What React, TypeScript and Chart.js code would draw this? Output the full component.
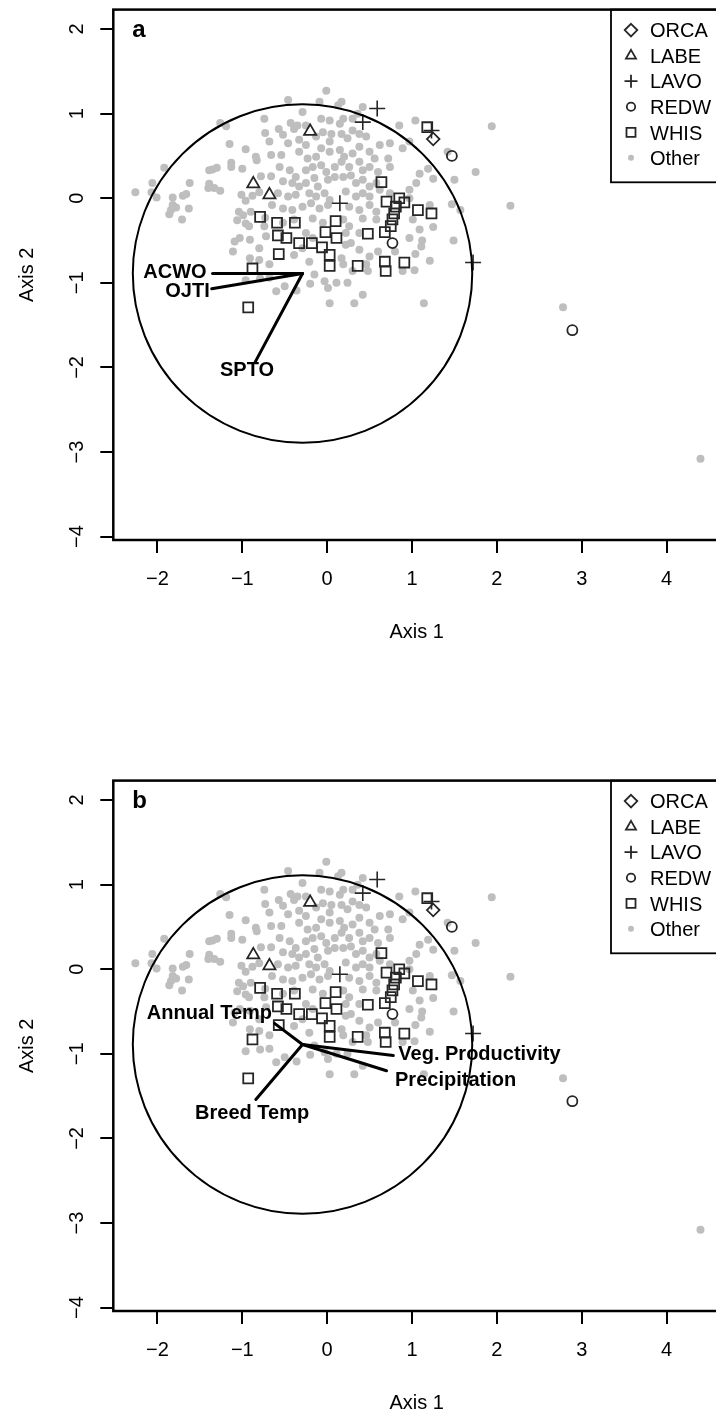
import React, { useEffect, useRef } from 'react';
import { Chart, registerables } from 'chart.js';

Chart.register(...registerables);

const FONT = '"Liberation Sans", Arial, Helvetica, sans-serif';

type Pt = [number, number];

// ---------- axes ----------
const xTicks = [-2, -1, 0, 1, 2, 3, 4];
const yTicks = [-4, -3, -2, -1, 0, 1, 2];
const xRange = [-2.52, 4.63];
const yRange = [-4.04, 2.23];
const xTitle = 'Axis 1';
const yTitle = 'Axis 2';

// ---------- species points ----------
const speciesNames = ['ORCA', 'LABE', 'LAVO', 'REDW', 'WHIS', 'Other'];
const orcaPoints: Pt[] = [[1.25, 0.70]];
const labePoints: Pt[] = [[-0.87, 0.17], [-0.68, 0.04], [-0.20, 0.79]];
const lavoPoints: Pt[] = [[0.59, 1.06], [0.42, 0.90], [0.15, -0.06], [1.72, -0.76], [1.23, 0.80]];
const redwPoints: Pt[] = [[1.47, 0.50], [0.77, -0.53], [2.89, -1.56]];
const whisPoints: Pt[] = [
  [-0.79, -0.22], [0.64, 0.19], [0.85, 0.00], [0.91, -0.05], [0.70, -0.04], [0.81, -0.10],
  [0.79, -0.18], [0.77, -0.25], [0.75, -0.33], [1.07, -0.14], [-0.59, -0.29], [-0.38, -0.29],
  [0.10, -0.27], [-0.02, -0.40], [0.48, -0.42], [0.68, -0.40], [1.18, 0.84], [1.23, -0.18],
  [-0.58, -0.44], [-0.48, -0.47], [-0.33, -0.53], [-0.18, -0.53], [-0.06, -0.58], [0.11, -0.47],
  [0.03, -0.67], [0.03, -0.80], [-0.57, -0.66], [0.36, -0.80], [0.68, -0.75], [0.69, -0.86],
  [0.91, -0.76], [-0.88, -0.83], [-0.93, -1.29],
];
const otherPoints: Pt[] = [
  [-1.26, 0.89], [-1.19, 0.85], [-0.74, 0.94], [-0.73, 0.77], [-1.15, 0.64], [-0.96, 0.58],
  [-0.84, 0.49], [-0.83, 0.45], [-0.68, 0.67], [-0.66, 0.51], [-1.13, 0.42], [-1.13, 0.37],
  [-1.00, 0.35], [-1.30, 0.36], [-1.39, 0.33], [-1.35, 0.34], [-1.92, 0.36], [-2.06, 0.18],
  [-1.62, 0.18], [-2.26, 0.07], [-2.07, 0.07], [-2.01, 0.01], [-1.82, 0.01], [-1.70, 0.03],
  [-1.66, 0.05], [-1.82, -0.08], [-1.84, -0.14], [-1.78, -0.11], [-1.86, -0.19], [-1.63, -0.12],
  [-1.71, -0.25], [-1.39, 0.17], [-1.33, 0.12], [-1.26, 0.09], [-1.40, 0.12], [-1.01, 0.04],
  [-0.96, -0.03], [-0.88, 0.03], [-0.80, 0.07], [-0.78, 0.26], [-0.66, 0.26], [-1.04, -0.16],
  [-1.06, -0.26], [-0.99, -0.20], [-0.96, -0.30], [-0.90, -0.16], [-0.92, -0.33], [-0.74, -0.33],
  [-0.73, -0.23], [-0.65, -0.08],
  [-0.01, 1.27], [-0.46, 1.16], [-0.29, 1.02], [-0.09, 1.14], [0.13, 1.10], [0.17, 1.14],
  [0.42, 1.08], [-0.43, 0.89], [-0.35, 0.86], [-0.39, 0.82], [-0.25, 0.86], [-0.07, 0.94],
  [0.03, 0.92], [0.19, 0.94], [0.15, 0.88], [0.30, 0.94], [0.36, 1.00], [1.04, 0.92],
  [-0.57, 0.82], [-0.52, 0.75], [-0.46, 0.65], [-0.33, 0.69], [-0.25, 0.63], [-0.13, 0.73],
  [-0.05, 0.78], [0.05, 0.76], [0.03, 0.67], [0.17, 0.76], [0.30, 0.80], [0.24, 0.71],
  [0.38, 0.76], [0.46, 0.73], [0.62, 0.63], [0.74, 0.65], [0.89, 0.59], [0.85, 0.86],
  [0.97, 0.67], [-0.54, 0.51], [-0.33, 0.55], [-0.23, 0.47], [-0.13, 0.49], [-0.07, 0.59],
  [0.03, 0.55], [0.15, 0.57], [0.20, 0.49], [0.30, 0.53], [0.38, 0.61], [0.50, 0.55],
  [0.56, 0.47], [0.72, 0.47], [0.74, 0.37], [1.09, 0.29], [1.05, 0.18], [0.97, 0.10],
  [-0.56, 0.37], [-0.44, 0.33], [-0.37, 0.25], [-0.25, 0.33], [-0.17, 0.37], [-0.07, 0.39],
  [-0.01, 0.31], [0.09, 0.37], [0.17, 0.43], [0.26, 0.37], [0.38, 0.43], [0.42, 0.33],
  [0.50, 0.37], [0.60, 0.31], [-0.52, 0.20], [-0.41, 0.18], [-0.33, 0.14], [-0.25, 0.18],
  [-0.15, 0.24], [-0.11, 0.14], [0.01, 0.22], [0.09, 0.25], [0.19, 0.25], [0.28, 0.27],
  [0.34, 0.18], [0.42, 0.22], [0.50, 0.14], [0.58, 0.18], [-0.58, 0.06], [-0.46, 0.02],
  [-0.37, 0.04], [-0.21, 0.06], [-0.13, 0.02], [-0.03, 0.06], [0.03, -0.02], [0.22, 0.08],
  [0.34, 0.02], [0.42, 0.06], [0.50, 0.02], [0.62, 0.10], [0.74, 0.06], [0.97, 0.00],
  [-0.52, -0.12], [-0.41, -0.14], [-0.29, -0.10], [-0.19, -0.06], [-0.09, -0.12], [0.01, -0.08],
  [0.26, -0.10], [0.38, -0.14], [0.50, -0.08], [0.58, -0.16], [-0.52, -0.29], [-0.39, -0.25],
  [-0.17, -0.24], [-0.05, -0.29], [0.19, -0.25], [0.26, -0.33], [0.42, -0.24], [0.58, -0.25],
  [0.22, -0.41], [-0.25, -0.41], [0.38, -0.41], [1.01, -0.25], [1.09, -0.37],
  [1.94, 0.85], [1.75, 0.31], [2.16, -0.09], [1.50, 0.22], [1.42, 0.55], [1.25, 0.23],
  [1.19, 0.35], [1.47, -0.07], [1.57, -0.14], [1.25, -0.34], [1.21, -0.08],
  [2.78, -1.29], [4.40, -3.08], [1.49, -0.50], [1.12, -0.50], [1.11, -0.57], [1.04, -0.66],
  [1.21, -0.74], [1.03, -0.85], [1.14, -1.24],
  [-1.09, -0.51], [-1.03, -0.47], [-0.91, -0.49], [-0.80, -0.59], [-0.72, -0.45], [-1.11, -0.63],
  [-0.91, -0.71], [-0.80, -0.73], [-0.68, -0.78], [-0.96, -0.97], [-0.68, -0.94],
  [-0.60, -1.10], [-0.50, -1.04], [-0.39, -0.67], [-0.29, -0.59], [-0.21, -0.75], [-0.15, -0.90],
  [-0.17, -0.47], [-0.03, -0.98], [0.01, -1.06], [0.11, -1.00], [0.17, -0.71], [0.19, -0.78],
  [0.22, -0.55], [0.24, -1.00], [0.30, -0.86], [0.38, -0.61], [0.42, -1.14], [0.32, -1.24],
  [0.03, -1.24], [0.48, -0.86], [0.50, -0.69], [0.60, -0.63], [0.46, -0.78], [0.28, -0.53],
  [0.89, -0.86], [0.97, -0.47], [0.80, -0.63],
  [-0.79, -0.95], [-0.36, -1.09], [-0.20, -1.01],
];

// ---------- biplot vectors ----------
const arrowOrigin: Pt = [-0.29, -0.89];
const circleRadius = 2.0;

const arrowNamesA = ['ACWO', 'OJTI', 'SPTO'];
const arrowEndXA = [-1.35, -1.36, -0.85];
const arrowEndYA = [-0.89, -1.07, -1.94];

const arrowNamesB = ['Annual Temp', 'Veg. Productivity', 'Precipitation', 'Breed Temp'];
const arrowEndXB = [-0.62, 0.78, 0.70, -0.84];
const arrowEndYB = [-0.64, -1.02, -1.20, -1.54];

// label placement (pixel offsets from vector tip) - styling only
type LabelStyle = { align: CanvasTextAlign; dx: number; dy: number };
const labelStyleA: LabelStyle[] = [
  { align: 'right', dx: -6, dy: -1 },
  { align: 'right', dx: -2, dy: 3 },
  { align: 'center', dx: -8, dy: 8 },
];
const labelStyleB: LabelStyle[] = [
  { align: 'right', dx: -2.5, dy: -10 },
  { align: 'left', dx: 5, dy: -1.5 },
  { align: 'left', dx: 8.5, dy: 10 },
  { align: 'center', dx: -3.7, dy: 14 },
];

const SYM = '#262626';
const GREY = '#bebebe';

const fmt = (v: number) => (v < 0 ? '\u2212' + Math.abs(v) : String(v));
const toXY = (p: Pt[]) => p.map(([x, y]) => ({ x, y }));

function drawSymbol(ctx: CanvasRenderingContext2D, kind: string, x: number, y: number) {
  ctx.save();
  ctx.lineWidth = 1.8;
  ctx.strokeStyle = SYM;
  ctx.fillStyle = GREY;
  ctx.beginPath();
  if (kind === 'diamond') {
    const r = 6.3;
    ctx.moveTo(x, y - r); ctx.lineTo(x + r, y); ctx.lineTo(x, y + r); ctx.lineTo(x - r, y); ctx.closePath();
    ctx.stroke();
  } else if (kind === 'triangle') {
    const r = 5.8;
    ctx.moveTo(x, y - r); ctx.lineTo(x + r * 0.866, y + r / 2); ctx.lineTo(x - r * 0.866, y + r / 2); ctx.closePath();
    ctx.stroke();
  } else if (kind === 'plus') {
    const r = 6.5;
    ctx.moveTo(x - r, y); ctx.lineTo(x + r, y); ctx.moveTo(x, y - r); ctx.lineTo(x, y + r);
    ctx.stroke();
  } else if (kind === 'circle') {
    ctx.arc(x, y, 4.2, 0, Math.PI * 2);
    ctx.stroke();
  } else if (kind === 'square') {
    ctx.rect(x - 4.5, y - 4.5, 9, 9);
    ctx.stroke();
  } else {
    ctx.arc(x, y, 3, 0, Math.PI * 2);
    ctx.fill();
  }
  ctx.restore();
}

const legendKinds = ['diamond', 'triangle', 'plus', 'circle', 'square', 'dot'];

function buildChart(canvas: HTMLCanvasElement, panel: 'a' | 'b') {
  const names = panel === 'a' ? arrowNamesA : arrowNamesB;
  const ex = panel === 'a' ? arrowEndXA : arrowEndXB;
  const ey = panel === 'a' ? arrowEndYA : arrowEndYB;
  const styles = panel === 'a' ? labelStyleA : labelStyleB;

  const pointSet = (label: string, pts: Pt[], style: string, radius: number, order: number, width = 1.8) => ({
    label,
    data: toXY(pts),
    showLine: false,
    pointStyle: style,
    pointRadius: radius,
    pointHoverRadius: radius,
    pointBackgroundColor: 'rgba(0,0,0,0)',
    pointBorderColor: SYM,
    pointBorderWidth: width,
    order,
  });

  const arrowSets = names.map((n, i) => ({
    label: n,
    data: [{ x: arrowOrigin[0], y: arrowOrigin[1] }, { x: ex[i], y: ey[i] }],
    showLine: true,
    borderColor: '#000',
    borderWidth: 3,
    borderCapStyle: 'round',
    pointRadius: 0,
    pointHoverRadius: 0,
    order: 1,
  }));

  const overlay = {
    id: 'overlay' + panel,
    afterDatasetsDraw(chart: any) {
      const { ctx, chartArea: ca } = chart;
      const xs = chart.scales.x;
      const ys = chart.scales.y;
      ctx.save();
      ctx.beginPath();
      ctx.rect(ca.left, ca.top, ca.right - ca.left, ca.bottom - ca.top);
      ctx.clip();
      const cx = xs.getPixelForValue(arrowOrigin[0]);
      const cy = ys.getPixelForValue(arrowOrigin[1]);
      const rx = xs.getPixelForValue(arrowOrigin[0] + circleRadius) - cx;
      const ry = cy - ys.getPixelForValue(arrowOrigin[1] + circleRadius);
      ctx.beginPath();
      ctx.ellipse(cx, cy, rx, ry, 0, 0, Math.PI * 2);
      ctx.lineWidth = 2;
      ctx.strokeStyle = '#000';
      ctx.stroke();
      ctx.restore();

      // vector labels
      ctx.save();
      ctx.fillStyle = '#000';
      ctx.font = 'bold 20px ' + FONT;
      ctx.textBaseline = 'middle';
      names.forEach((n, i) => {
        const px = xs.getPixelForValue(ex[i]);
        const py = ys.getPixelForValue(ey[i]);
        ctx.textAlign = styles[i].align;
        ctx.fillText(n, px + styles[i].dx, py + styles[i].dy);
      });
      ctx.restore();
    },
    afterDraw(chart: any) {
      const { ctx, chartArea: ca } = chart;
      const ys = chart.scales.y;
      // legend (top-right inside the box)
      ctx.save();
      const lLeft = ca.right - 109;
      const lTop = ca.top;
      const lBottom = ca.top + 172.7;
      ctx.fillStyle = '#fff';
      ctx.fillRect(lLeft, lTop, ca.right - lLeft, lBottom - lTop);
      ctx.lineWidth = 1.8;
      ctx.strokeStyle = '#000';
      ctx.strokeRect(lLeft, lTop, ca.right - lLeft, lBottom - lTop);
      ctx.font = '20px ' + FONT;
      ctx.fillStyle = '#000';
      ctx.textAlign = 'left';
      ctx.textBaseline = 'alphabetic';
      speciesNames.forEach((n, i) => {
        const cyRow = lTop + 20.5 + i * 25.55;
        drawSymbol(ctx, legendKinds[i], lLeft + 20, cyRow);
        ctx.fillStyle = '#000';
        ctx.fillText(n, lLeft + 39, cyRow + 7.2);
      });
      ctx.restore();

      // frame
      ctx.save();
      ctx.lineWidth = 2.5;
      ctx.strokeStyle = '#000';
      ctx.strokeRect(ca.left, ca.top, ca.right - ca.left, ca.bottom - ca.top);
      ctx.restore();

      // rotated y tick labels
      ctx.save();
      ctx.font = '20px ' + FONT;
      ctx.fillStyle = '#000';
      ctx.textAlign = 'center';
      ctx.textBaseline = 'alphabetic';
      ys.ticks.forEach((t: any) => {
        const py = ys.getPixelForValue(t.value);
        ctx.save();
        ctx.translate(ca.left - 30.3, py);
        ctx.rotate(-Math.PI / 2);
        ctx.fillText(fmt(t.value), 0, 0);
        ctx.restore();
      });
      // axis titles
      ctx.save();
      ctx.translate(33, (ca.top + ca.bottom) / 2);
      ctx.rotate(-Math.PI / 2);
      ctx.fillText(yTitle, 0, 0);
      ctx.restore();
      ctx.fillText(xTitle, (ca.left + ca.right) / 2, ca.bottom + 98);
      // panel letter
      ctx.font = 'bold 24px ' + FONT;
      ctx.textAlign = 'left';
      ctx.fillText(panel, ca.left + 19, ca.top + 27.5);
      ctx.restore();
    },
  };

  const gridOpts = {
    drawOnChartArea: false,
    drawTicks: true,
    tickLength: 13,
    color: '#000',
    tickColor: '#000',
    lineWidth: 2,
    tickWidth: 2,
  };

  return new Chart(canvas, {
    type: 'scatter',
    data: {
      datasets: [
        ...arrowSets,
        pointSet('ORCA', orcaPoints, 'rectRot', 6.3, 5),
        pointSet('LABE', labePoints, 'triangle', 7, 5),
        pointSet('LAVO', lavoPoints, 'cross', 8, 5, 1.6),
        pointSet('REDW', redwPoints, 'circle', 5, 5),
        pointSet('WHIS', whisPoints, 'rect', 7, 5),
        {
          label: 'Other',
          data: toXY(otherPoints),
          showLine: false,
          pointStyle: 'circle',
          pointRadius: 4,
          pointHoverRadius: 4,
          pointBackgroundColor: GREY,
          pointBorderColor: GREY,
          pointBorderWidth: 0,
          order: 10,
        },
      ] as any,
    },
    options: {
      responsive: false,
      animation: false,
      events: [],
      layout: { padding: { top: 7.3, right: 20, bottom: 0, left: 0 } },
      plugins: { legend: { display: false }, tooltip: { enabled: false } },
      scales: {
        x: {
          type: 'linear',
          min: xRange[0],
          max: xRange[1],
          afterBuildTicks: (s: any) => { s.ticks = xTicks.map((v) => ({ value: v })); },
          afterFit: (s: any) => { s.height = 101; },
          grid: gridOpts,
          border: { display: false },
          ticks: {
            padding: 14,
            autoSkip: false,
            maxRotation: 0,
            color: '#000',
            font: { family: FONT, size: 20 },
            callback: (v: any) => fmt(Number(v)),
          },
        },
        y: {
          type: 'linear',
          min: yRange[0],
          max: yRange[1],
          afterBuildTicks: (s: any) => { s.ticks = yTicks.map((v) => ({ value: v })); },
          afterFit: (s: any) => { s.width = 113.3; },
          grid: gridOpts,
          border: { display: false },
          ticks: { display: false },
        },
      },
    } as any,
    plugins: [overlay],
  });
}

export default function App() {
  const refA = useRef<HTMLCanvasElement>(null);
  const refB = useRef<HTMLCanvasElement>(null);
  useEffect(() => {
    const ca = buildChart(refA.current!, 'a');
    const cb = buildChart(refB.current!, 'b');
    return () => {
      ca.destroy();
      cb.destroy();
    };
  }, []);
  const cv = { width: 740, height: 641, display: 'block' } as React.CSSProperties;
  return (
    <div style={{ position: 'absolute', left: 0, top: 0, width: 716, height: 1412, overflow: 'hidden', background: '#fff' }}>
      <div style={{ position: 'absolute', left: 0, top: 0 }}>
        <canvas ref={refA} width={740} height={641} style={cv} />
      </div>
      <div style={{ position: 'absolute', left: 0, top: 771 }}>
        <canvas ref={refB} width={740} height={641} style={cv} />
      </div>
    </div>
  );
}
